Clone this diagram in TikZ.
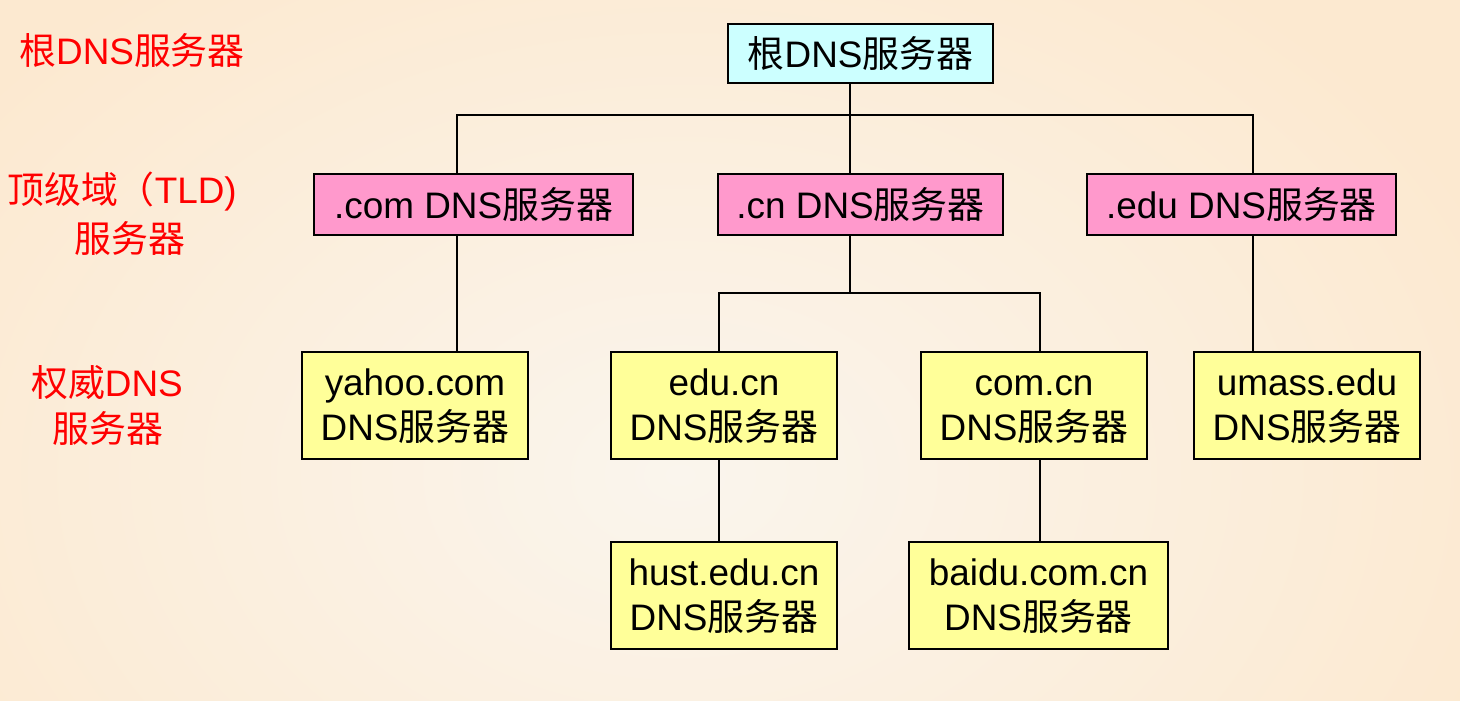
\documentclass[tikz,border=0pt]{standalone}
\usepackage{fontspec}
\setmainfont{Liberation Sans}
\newfontfamily\cjk{Noto Sans CJK SC}
\newcommand{\fwq}{{\cjk 服务器}}
\newcommand{\ls}{\vphantom{Ndy}}
\newcommand{\lt}{\rule{0pt}{0.88em}\vphantom{y}}
\definecolor{bgin}{RGB}{250,245,237}
\definecolor{bgout}{RGB}{252,233,208}
\definecolor{rootc}{RGB}{204,255,255}
\definecolor{tldc}{RGB}{255,153,204}
\definecolor{authc}{RGB}{255,255,153}
\begin{document}
\begin{tikzpicture}[x=0.02cm,y=-0.02cm,
  every node/.style={font=\fontsize{21}{26}\selectfont},
  box/.style={draw=black,line width=1.1pt,inner sep=0pt,align=center},
  rootbox/.style={box,fill=rootc,minimum width=5.3cm,minimum height=1.18cm},
  tldbox/.style={box,fill=tldc,minimum height=1.22cm},
  authbox/.style={box,fill=authc,minimum width=4.52cm,minimum height=2.14cm},
  lbl/.style={text=red,align=center},
  link/.style={line width=1.1pt}]
\begin{scope}
\clip (0,0) rectangle (1460,700);
\shade[inner color=bgin,outer color=bgout] (-200,-150) rectangle (1560,1100);
\end{scope}
\useasboundingbox (0,0) rectangle (1460,700);
% left labels
\node[lbl] (l1) at (132,50) {{\cjk 根}DNS\fwq};
\node[lbl] (l2) at (122,192) {{\cjk 顶级域（}TLD)};
\node[lbl] (l3) at (130,238) {\fwq};
\node[lbl] (l4) at (107,383) {{\cjk 权威}DNS};
\node[lbl] (l5) at (108,428) {\fwq};
% nodes
\node[rootbox] (root) at (860.5,53.5) {{\cjk 根}DNS\fwq};
\node[tldbox,minimum width=6.38cm] (com) at (473.5,204.5) {.com DNS\fwq};
\node[tldbox,minimum width=5.7cm] (cn) at (860.5,204.5) {.cn DNS\fwq};
\node[tldbox,minimum width=6.18cm] (edu) at (1241.5,204.5) {.edu DNS\fwq};
\node[authbox] (yahoo) at (415,405.5) {\lt yahoo.com\\\ls DNS\fwq};
\node[authbox] (educn) at (724,405.5) {\lt edu.cn\\\ls DNS\fwq};
\node[authbox] (comcn) at (1034,405.5) {\lt com.cn\\\ls DNS\fwq};
\node[authbox] (umass) at (1307,405.5) {\lt umass.edu\\\ls DNS\fwq};
\node[authbox] (hust) at (724,595.5) {\lt hust.edu.cn\\\ls DNS\fwq};
\node[authbox,minimum width=5.18cm] (baidu) at (1038.5,595.5) {\lt baidu.com.cn\\\ls DNS\fwq};
% connector columns and buses
\coordinate (xr) at (850,115);
\coordinate (xcom) at (457,115);
\coordinate (xedu) at (1253,115);
\coordinate (xcn) at (850,293);
\coordinate (xe) at (719,293);
\coordinate (xc) at (1040,293);
\draw[link] (xr |- root.south) -- (xr);
\draw[link] (xcom |- com.north) -- (xcom) -- (xedu) -- (xedu |- edu.north);
\draw[link] (xr) -- (xr |- cn.north);
\draw[link] (xcom |- com.south) -- (xcom |- yahoo.north);
\draw[link] (xedu |- edu.south) -- (xedu |- umass.north);
\draw[link] (xcn |- cn.south) -- (xcn);
\draw[link] (xe |- educn.north) -- (xe) -- (xc) -- (xc |- comcn.north);
\draw[link] (xe |- educn.south) -- (xe |- hust.north);
\draw[link] (xc |- comcn.south) -- (xc |- baidu.north);
\end{tikzpicture}
\end{document}
